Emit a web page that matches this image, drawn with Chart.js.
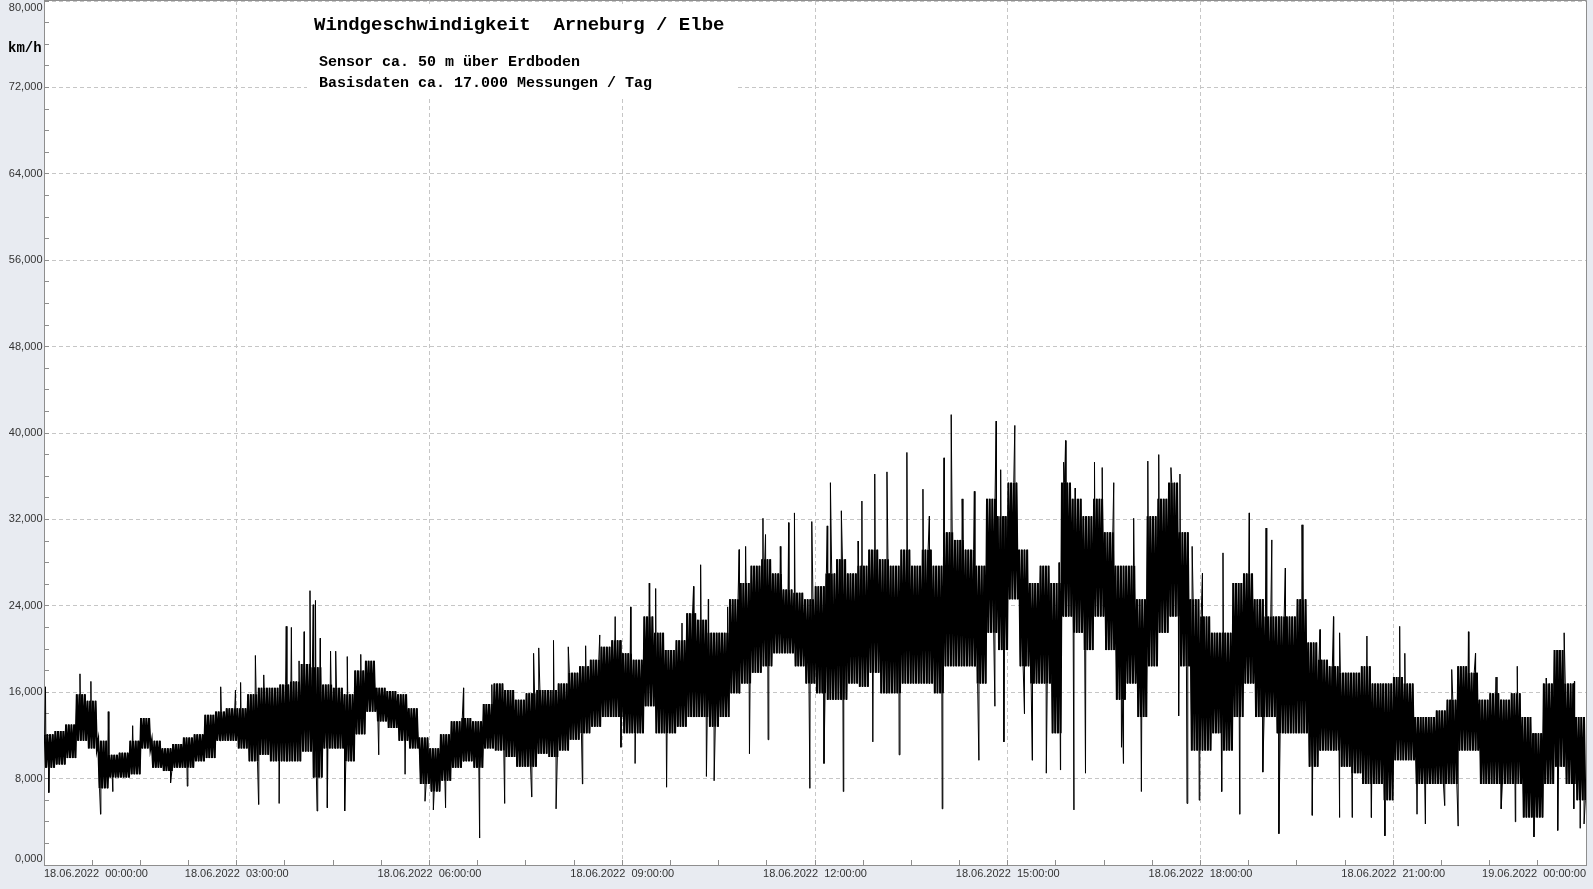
<!DOCTYPE html>
<html>
<head>
<meta charset="utf-8">
<script src="https://cdn.jsdelivr.net/npm/chart.js@4/dist/chart.umd.min.js"></script>
<style>
  html, body { margin: 0; padding: 0; background: #e8ebf1; }
  #wrap { width: 1593px; height: 889px; position: relative; }
</style>
</head>
<body>
<div id="wrap"><canvas id="WindChart"></canvas></div>
<script>
// dense core band of the signal, one pair per 10 minutes (km/h)
let coreHi = [
  12.1, 12.4, 13.0, 15.8, 15.2, 11.5,  10.2, 10.4, 11.5, 13.6, 11.5, 10.8,
  11.2, 11.8, 12.1, 13.9, 14.2, 14.5,  14.5, 15.8, 16.4, 16.4, 16.7, 17.0,
  18.6, 18.3, 16.7, 16.4, 15.8, 18.0,  18.9, 16.4, 16.1, 15.8, 14.5, 11.8,
  10.8, 12.1, 13.3, 13.6, 13.3, 14.9,  16.8, 16.2, 15.3, 15.9, 16.2, 16.2,
  16.8, 17.8, 18.4, 19.0, 20.2, 20.8,  19.6, 19.0, 23.0, 21.5, 19.9, 20.8,
  23.3, 22.7, 21.5, 21.5, 24.6, 26.1,  27.7, 28.3, 27.0, 25.5, 25.2, 24.6,
  25.8, 27.0, 28.3, 27.0, 27.7, 29.2,  28.3, 27.7, 29.2, 27.7, 29.2, 27.7,
  30.8, 30.1, 29.2, 27.7, 33.9, 32.3,  35.4, 29.2, 26.1, 27.7, 26.1, 35.4,
  33.9, 32.3, 33.9, 30.8, 27.7, 27.7,  24.6, 32.3, 33.9, 35.4, 30.8, 24.6,
  23.0, 21.5, 21.5, 26.1, 27.0, 24.6,  23.0, 23.0, 23.0, 24.6, 20.6, 19.0,
  18.4, 17.8, 17.8, 18.4, 16.8, 16.8,  17.4, 16.8, 13.7, 13.7, 14.3, 15.3,
  18.4, 17.8, 15.3, 15.9, 15.3, 15.9,  13.7, 12.2, 16.8, 19.9, 16.8, 13.7
];
let coreLo = [
   9.0,  9.3,  9.9, 11.5, 10.8,  7.1,   8.1,  8.1,  8.4, 10.8,  9.0,  8.7,
   9.0,  9.0,  9.6,  9.9, 11.5, 11.5,  10.8,  9.6, 10.2,  9.6,  9.6,  9.6,
  10.5,  8.1, 10.8, 10.8,  9.6, 12.1,  14.2, 13.3, 12.7, 11.5, 10.8,  7.5,
   6.8,  7.8,  9.0,  9.6,  9.0, 10.8,  10.6, 10.0,  9.1,  9.1, 10.3, 10.0,
  10.6, 11.6, 12.2, 12.8, 13.7, 13.7,  12.2, 12.2, 14.7, 12.2, 12.2, 12.8,
  13.7, 13.7, 12.8, 13.7, 15.9, 16.8,  17.8, 18.4, 19.6, 19.6, 18.4, 16.8,
  15.9, 15.3, 15.3, 16.8, 16.5, 17.8,  15.9, 15.9, 16.8, 16.8, 16.8, 15.9,
  18.4, 18.4, 18.4, 16.8, 21.5, 19.9,  24.6, 18.4, 16.8, 16.8, 12.2, 23.0,
  21.5, 19.9, 23.0, 19.9, 15.3, 16.8,  13.7, 18.4, 21.5, 23.0, 18.4, 10.6,
  10.6, 12.2, 10.6, 13.7, 16.8, 13.7,  13.7, 12.2, 12.2, 12.2,  9.1, 10.6,
  10.6,  9.1,  8.5,  7.5,  7.5,  6.0,   9.7,  9.7,  7.5,  7.5,  7.5,  7.5,
  10.6, 10.6,  7.5,  7.5,  7.5,  7.5,   4.4,  4.4,  7.5,  9.1,  7.5,  6.0
];

// single gusts and dips that stick out of the band (hour of day, km/h)
let spikeHours = [
  0.023, 0.075, 0.56, 0.73, 0.88, 1.00, 1.07, 1.38, 1.97, 2.23, 2.75, 2.98,
  3.06, 3.29, 3.34, 3.42, 3.66, 3.77, 3.85, 3.97, 4.05, 4.14, 4.19, 4.225,
  4.25, 4.30, 4.41, 4.46, 4.54, 4.68, 4.72, 4.93, 5.21, 5.62, 5.93, 6.06,
  6.25, 6.53, 6.78, 6.97, 7.17, 7.59, 7.62, 7.70, 7.93, 7.97, 8.16, 8.38,
  8.43, 8.65, 8.89, 8.98, 9.13, 9.20, 9.42, 9.52, 9.69, 9.93, 10.11, 10.22,
  10.31, 10.34, 10.43, 10.64, 10.82, 10.92, 10.98, 11.19, 11.23, 11.27, 11.46, 11.59,
  11.68, 11.92, 11.95, 12.14, 12.19, 12.24, 12.41, 12.44, 12.67, 12.73, 12.90, 12.93,
  13.12, 13.31, 13.43, 13.68, 13.78, 13.98, 14.01, 14.12, 14.29, 14.48, 14.55, 14.80,
  14.82, 14.89, 14.94, 15.11, 15.26, 15.38, 15.60, 15.80, 15.82, 15.87, 15.90, 16.03,
  16.05, 16.21, 16.35, 16.47, 16.65, 16.77, 16.80, 16.96, 17.08, 17.18, 17.35, 17.54,
  17.66, 17.68, 17.79, 17.87, 17.98, 18.03, 18.33, 18.35, 18.61, 18.76, 18.97, 19.02,
  19.11, 19.22, 19.32, 19.58, 19.74, 19.86, 20.07, 20.16, 20.17, 20.36, 20.59, 20.66,
  20.87, 21.10, 21.18, 21.37, 21.50, 21.80, 21.91, 22.01, 22.17, 22.28, 22.60, 22.68,
  22.90, 22.93, 23.19, 23.38, 23.56, 23.66, 23.81, 23.82, 23.91, 23.97
];
let spikeValues = [
  16.5, 6.7, 17.7, 17.0, 4.7, 14.2, 6.8, 12.9, 7.6, 7.3, 16.5, 16.2,
  16.9, 19.4, 5.6, 17.6, 5.7, 22.1, 22.0, 18.9, 21.6, 25.4, 24.1, 24.5,
  5.0, 21.0, 5.3, 19.8, 19.8, 5.0, 19.3, 19.5, 10.2, 8.4, 5.9, 5.1,
  5.3, 16.4, 2.5, 16.7, 5.7, 6.3, 19.6, 20.1, 20.8, 5.2, 20.2, 7.5,
  20.3, 21.3, 23.0, 10.9, 23.9, 9.4, 26.1, 25.6, 7.2, 22.4, 25.8, 27.8,
  8.2, 24.6, 7.8, 23.9, 29.2, 29.5, 10.3, 32.1, 30.6, 11.6, 29.5, 31.7,
  32.6, 7.1, 31.8, 9.4, 31.4, 35.4, 32.8, 6.8, 30.0, 33.7, 11.4, 36.2,
  36.4, 10.2, 38.2, 34.8, 32.3, 5.2, 37.7, 41.7, 33.9, 34.6, 9.7, 14.7,
  41.1, 36.6, 11.4, 40.7, 14.0, 9.7, 8.5, 28.0, 8.8, 37.3, 39.3, 5.1,
  34.9, 8.5, 37.3, 36.8, 35.4, 10.9, 9.4, 32.1, 6.8, 37.4, 38.0, 36.8,
  13.8, 36.2, 5.7, 29.5, 6.0, 27.0, 6.8, 28.9, 4.7, 32.6, 8.6, 31.2,
  30.1, 2.9, 27.5, 31.5, 4.6, 21.8, 23.0, 4.4, 21.5, 4.4, 21.2, 4.4,
  2.7, 22.1, 19.6, 4.7, 3.8, 5.5, 18.1, 3.6, 21.6, 19.6, 17.4, 5.2,
  4.0, 18.4, 2.6, 17.3, 3.2, 21.5, 5.2, 17.0, 3.4, 3.8
];

let xLabels = [
  "18.06.2022  00:00:00", "18.06.2022  03:00:00", "18.06.2022  06:00:00",
  "18.06.2022  09:00:00", "18.06.2022  12:00:00", "18.06.2022  15:00:00",
  "18.06.2022  18:00:00", "18.06.2022  21:00:00", "19.06.2022  00:00:00"
];
let yLabels = [
  "0,000", "8,000", "16,000", "24,000", "32,000",
  "40,000", "48,000", "56,000", "64,000", "72,000", "80,000"
];

let title = "Windgeschwindigkeit  Arneburg / Elbe";
let subLines = ["Sensor ca. 50 m über Erdboden", "Basisdaten ca. 17.000 Messungen / Tag"];

// the core band swings top/bottom every 1.25 minutes
let bandPoints = [];
coreHi.forEach((hi, i) => {
  let lo = coreLo[i];
  [hi, lo, hi, lo, hi, lo, hi, lo].forEach((v, k) => bandPoints.push({ x: i / 6 + (k + 0.5) / 48, y: v }));
});
// full trace: band plus the single gusts, merged by time
let tracePoints = bandPoints.concat(spikeHours.map((h, i) => ({ x: h, y: spikeValues[i] })));
tracePoints.sort((a, b) => a.x - b.x);

let gridGray = "#c6c6c6";
let axisGray = "#8e8e8e";

let decor = {
  id: "decor",
  beforeDraw: (chart) => {
    let { ctx, chartArea: a } = chart;
    ctx.save();
    ctx.fillStyle = "#e8ebf1";
    ctx.fillRect(0, 0, chart.width, chart.height);
    ctx.fillStyle = "#ffffff";
    ctx.fillRect(a.left, a.top, a.right - a.left, a.bottom - a.top);
    ctx.restore();
  },
  beforeDatasetsDraw: (chart) => {
    let ctx = chart.ctx;
    ctx.save();
    // white box behind the headline
    ctx.fillStyle = "#ffffff";
    ctx.fillRect(307, 4, 430, 92);
    ctx.fillStyle = "#000000";
    ctx.textBaseline = "alphabetic";
    ctx.font = "bold 19px 'Liberation Mono', 'Courier New', monospace";
    ctx.fillText(title, 314, 29.5);
    ctx.font = "bold 15px 'Liberation Mono', 'Courier New', monospace";
    ctx.fillText(subLines[0], 319, 66);
    ctx.fillText(subLines[1], 319, 87);
    ctx.restore();
  },
  afterDraw: (chart) => {
    let { ctx, chartArea: a } = chart;
    let y = chart.scales.y;
    ctx.save();
    // top and right frame
    ctx.strokeStyle = axisGray;
    ctx.lineWidth = 1;
    ctx.beginPath();
    ctx.moveTo(a.left, a.top - 0.5);
    ctx.lineTo(a.right + 0.5, a.top - 0.5);
    ctx.lineTo(a.right + 0.5, a.bottom);
    ctx.stroke();
    // value labels, first and last pushed inside
    ctx.fillStyle = "#333333";
    ctx.font = "11px 'Liberation Sans', Arial, sans-serif";
    ctx.textAlign = "right";
    ctx.textBaseline = "middle";
    yLabels.forEach((txt, i) => {
      let py = y.getPixelForValue(i * 8);
      if (i === 0) py -= 6;
      if (i === yLabels.length - 1) py += 7;
      ctx.fillText(txt, 42.5, py);
    });
    ctx.fillStyle = "#000000";
    ctx.textAlign = "left";
    ctx.textBaseline = "alphabetic";
    ctx.font = "bold 14px 'Liberation Mono', 'Courier New', monospace";
    ctx.fillText("km/h", 8, 51.5);
    ctx.restore();
  }
};

let windChartCtx = document.getElementById("WindChart").getContext("2d");

let wind_chart_controller = new Chart(windChartCtx, {
  type: "line",
  data: {
    datasets: [{
      data: bandPoints,
      borderColor: "#000000",
      borderWidth: 2,
      pointRadius: 0,
      tension: 0,
      fill: false
    }, {
      data: tracePoints,
      borderColor: "#000000",
      borderWidth: 1,
      pointRadius: 0,
      tension: 0,
      fill: false
    }]
  },
  options: {
    responsive: true,
    maintainAspectRatio: false,
    animation: false,
    events: [],
    layout: { padding: { top: 1, right: 3, bottom: 0, left: 0 } },
    plugins: { legend: { display: false }, tooltip: { enabled: false } },
    scales: {
      x: {
        type: "linear",
        min: 0,
        max: 24,
        afterFit: (s) => { s.height = 24; },
        ticks: {
          stepSize: 0.75,
          autoSkip: false,
          maxRotation: 0,
          minRotation: 0,
          align: "inner",
          padding: 7,
          color: "#333333",
          font: { family: "'Liberation Sans', Arial, sans-serif", size: 11 },
          callback: (v) => (v % 3 === 0 ? xLabels[v / 3] : "")
        },
        grid: {
          color: (c) => (c.tick && c.tick.value % 3 === 0 ? gridGray : "rgba(0,0,0,0)"),
          lineWidth: 1,
          tickLength: -5,
          tickColor: axisGray,
          tickBorderDash: []
        },
        border: { color: axisGray, width: 1, dash: [4, 3] }
      },
      y: {
        type: "linear",
        min: 0,
        max: 80,
        afterFit: (s) => { s.width = 44; },
        ticks: { stepSize: 2, display: false },
        grid: {
          color: (c) => (c.tick && c.tick.value % 8 === 0 ? gridGray : "rgba(0,0,0,0)"),
          lineWidth: 1,
          tickLength: -5,
          tickColor: axisGray,
          tickBorderDash: []
        },
        border: { color: axisGray, width: 1, dash: [4, 3] }
      }
    }
  },
  plugins: [decor]
});
</script>
</body>
</html>
